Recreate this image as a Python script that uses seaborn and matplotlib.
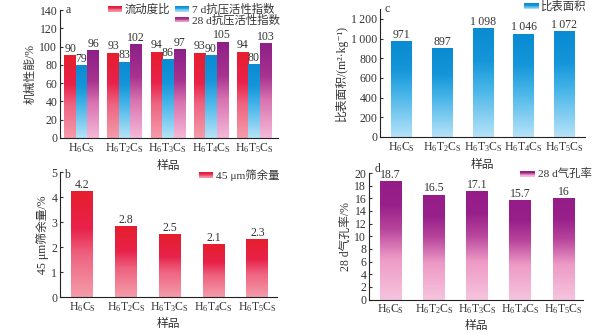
import numpy as np
import pandas as pd
import matplotlib
matplotlib.use("Agg")
import matplotlib.pyplot as plt
from matplotlib.colors import LinearSegmentedColormap
from matplotlib.legend_handler import HandlerBase
from matplotlib.patches import Rectangle, Patch
import seaborn as sns

# ---- data ----
samples = [r"$\mathrm{H_6C_S}$", r"$\mathrm{H_6T_2C_S}$", r"$\mathrm{H_6T_3C_S}$",
           r"$\mathrm{H_6T_4C_S}$", r"$\mathrm{H_6T_5C_S}$"]
flow_ratio = [90, 93, 94, 93, 94]
activity_7d = [79, 83, 86, 90, 80]
activity_28d = [96, 102, 97, 105, 103]
mech_names = ["流动度比", "7 d抗压活性指数", "28 d抗压活性指数"]
sieve_45um = [4.2, 2.8, 2.5, 2.1, 2.3]
specific_area = [971, 897, 1098, 1046, 1072]
porosity_28d = [18.7, 16.5, 17.1, 15.7, 16]

# ---- style ----
sns.set_theme(style="ticks")
plt.rcParams["font.family"] = ["Liberation Serif", "Noto Sans CJK SC", "DejaVu Sans"]
plt.rcParams["mathtext.fontset"] = "custom"
plt.rcParams["mathtext.rm"] = "Liberation Serif"
plt.rcParams["mathtext.it"] = "Liberation Serif:italic"
plt.rcParams["axes.unicode_minus"] = False
FS = 8.5
LFS = 8.2
TXT = "#333333"

red_cmap = LinearSegmentedColormap.from_list(
    "red", [(0, "#F49CAB"), (0.4, "#EE6380"), (0.65, "#E8224A"), (1, "#E61E2D")])
blue_cmap = LinearSegmentedColormap.from_list(
    "blue", [(0, "#B6E3F8"), (0.45, "#45B4E8"), (0.7, "#1596D9"), (1, "#0A8BD2")])
purple_cmap = LinearSegmentedColormap.from_list(
    "purple", [(0, "#F5B9D8"), (0.4, "#D873B0"), (0.65, "#A8338F"), (1, "#8D1F88")])
purple_d_cmap = LinearSegmentedColormap.from_list(
    "purple_d", [(0, "#F6C4DE"), (0.35, "#EE9AC6"), (0.6, "#B7449B"), (0.8, "#98208A"), (1, "#961D88")])


class GradientHandler(HandlerBase):
    def __init__(self, cmap):
        super().__init__()
        self.cmap = cmap

    def create_artists(self, legend, orig_handle, xdescent, ydescent,
                       width, height, fontsize, trans):
        artists = []
        n = 8
        hh = height * 0.8
        y0 = -ydescent + height * 0.1
        for i in range(n):
            r = Rectangle((-xdescent, y0 + hh * i / n), width, hh / n + 0.05,
                          facecolor=self.cmap((i + 0.5) / n), edgecolor="none",
                          transform=trans)
            artists.append(r)
        return artists


def gradient_bars(ax, bars, cmap):
    grad = np.linspace(0, 1, 256).reshape(-1, 1)
    for bar in bars:
        x0, y0 = bar.get_x(), bar.get_y()
        w, h = bar.get_width(), bar.get_height()
        ax.imshow(grad, extent=[x0, x0 + w, y0, y0 + h], origin="lower",
                  aspect="auto", cmap=cmap, zorder=bar.get_zorder() + 0.1,
                  interpolation="bilinear")
        bar.set_facecolor("none")
        bar.set_edgecolor("none")


def style_axes(ax, ylim, yticks, xlim, ylabel, letter, letter_dx, letter_dy,
               yticklabels=None, xlabelpad=4):
    ax.set_xlim(*xlim)
    ax.set_ylim(*ylim)
    ax.set_yticks(yticks)
    if yticklabels is not None:
        ax.set_yticklabels(yticklabels)
    ax.set_xticks(range(len(samples)))
    ax.set_xticklabels(samples)
    ax.tick_params(axis="both", direction="in", length=2.5, width=0.8,
                   labelsize=FS, colors=TXT, pad=2)
    for s in ("top", "right"):
        ax.spines[s].set_visible(False)
    for s in ("left", "bottom"):
        ax.spines[s].set_linewidth(0.8)
        ax.spines[s].set_color("#222222")
    ax.set_ylabel(ylabel, fontsize=FS, color=TXT, labelpad=2)
    ax.set_xlabel("样品", fontsize=FS, color=TXT, labelpad=xlabelpad)
    ax.annotate(letter, xy=(0, 1), xycoords="axes fraction",
                xytext=(letter_dx, letter_dy), textcoords="offset points",
                fontsize=FS, color=TXT, va="center", ha="left")


def add_legend(ax, handles, labels, cmaps, anchor, **kw):
    leg = ax.legend(handles, labels, loc="upper right", bbox_to_anchor=anchor,
                    frameon=False, fontsize=LFS, handlelength=1.3,
                    handleheight=0.6, handletextpad=0.2, borderaxespad=0.1,
                    borderpad=0.1,
                    handler_map={h: GradientHandler(c) for h, c in cmaps}, **kw)
    for t in leg.get_texts():
        t.set_color(TXT)
    return leg


fig = plt.figure(figsize=(6.13, 3.34), dpi=100)
ax_a = fig.add_axes([0.098, 0.587, 0.355, 0.383])
ax_c = fig.add_axes([0.620, 0.590, 0.334, 0.383])
ax_b = fig.add_axes([0.098, 0.110, 0.354, 0.375])
ax_d = fig.add_axes([0.602, 0.103, 0.349, 0.379])

# ---- (a) mechanical properties ----
df_a = pd.DataFrame({
    "sample": samples * 3,
    "metric": [mech_names[0]] * 5 + [mech_names[1]] * 5 + [mech_names[2]] * 5,
    "value": flow_ratio + activity_7d + activity_28d,
})
sns.barplot(data=df_a, x="sample", y="value", hue="metric", hue_order=mech_names,
            palette=["#E61E2D", "#0A8BD2", "#8D1F88"], width=0.8, ax=ax_a,
            legend=False, errorbar=None)
cmaps_a = [red_cmap, blue_cmap, purple_cmap]
for cont, cm, vals in zip(ax_a.containers, cmaps_a, [flow_ratio, activity_7d, activity_28d]):
    gradient_bars(ax_a, cont, cm)
    ax_a.bar_label(cont, labels=[f"{v:g}" for v in vals], padding=0.5,
                   fontsize=FS, color=TXT)
style_axes(ax_a, (0, 140), range(0, 141, 20), (-0.5, 4.55), "机械性能/%", "a", 4, 0)
blank = Patch(facecolor="none", edgecolor="none")
h = [Patch(), blank, Patch(), Patch()]
add_legend(ax_a, h, [mech_names[0], "", mech_names[1], mech_names[2]],
           [(h[0], red_cmap), (h[2], blue_cmap), (h[3], purple_cmap)],
           (1.02, 1.07), ncol=2, columnspacing=0.4, labelspacing=-0.05)

# ---- (c) specific surface area ----
df_c = pd.DataFrame({"sample": samples, "value": specific_area})
sns.barplot(data=df_c, x="sample", y="value", color="#0A8BD2", width=0.5,
            ax=ax_c, errorbar=None)
gradient_bars(ax_c, ax_c.containers[0], blue_cmap)


def thin_thousands(v):
    s = f"{int(v):,}"
    return s.replace(",", "\u2009")


ax_c.bar_label(ax_c.containers[0], labels=[thin_thousands(v) for v in specific_area],
               padding=0.5, fontsize=FS, color=TXT)
style_axes(ax_c, (0, 1300), range(0, 1201, 200), (-0.52, 4.5),
           "比表面积/(m²·kg⁻¹)", "c", 3, 0,
           yticklabels=[thin_thousands(v) for v in range(0, 1201, 200)])
hc = Patch()
add_legend(ax_c, [hc], ["比表面积"], [(hc, blue_cmap)], (1.02, 1.08))

# ---- (b) 45 um sieve residue ----
df_b = pd.DataFrame({"sample": samples, "value": sieve_45um})
sns.barplot(data=df_b, x="sample", y="value", color="#E61E2D", width=0.5,
            ax=ax_b, errorbar=None)
gradient_bars(ax_b, ax_b.containers[0], red_cmap)
ax_b.bar_label(ax_b.containers[0], labels=[f"{v:g}" for v in sieve_45um],
               padding=0.5, fontsize=FS, color=TXT)
style_axes(ax_b, (0, 5), range(0, 6), (-0.5, 4.45), "45 μm筛余量/%", "b", 3, -2,
           xlabelpad=3)
hb = Patch()
add_legend(ax_b, [hb], ["45 μm筛余量"], [(hb, red_cmap)], (1.02, 1.04))

# ---- (d) 28 d porosity ----
df_d = pd.DataFrame({"sample": samples, "value": porosity_28d})
sns.barplot(data=df_d, x="sample", y="value", color="#961D88", width=0.5,
            ax=ax_d, errorbar=None)
gradient_bars(ax_d, ax_d.containers[0], purple_d_cmap)
ax_d.bar_label(ax_d.containers[0], labels=[f"{v:g}" for v in porosity_28d],
               padding=0.5, fontsize=FS, color=TXT)
style_axes(ax_d, (0, 20), range(0, 21, 2), (-0.5, 4.45), "28 d气孔率/%", "d", 4, 3,
           xlabelpad=3)
hd = Patch()
add_legend(ax_d, [hd], ["28 d气孔率"], [(hd, purple_d_cmap)], (1.05, 1.05))

fig.savefig("out.png", dpi=100, facecolor="white")
